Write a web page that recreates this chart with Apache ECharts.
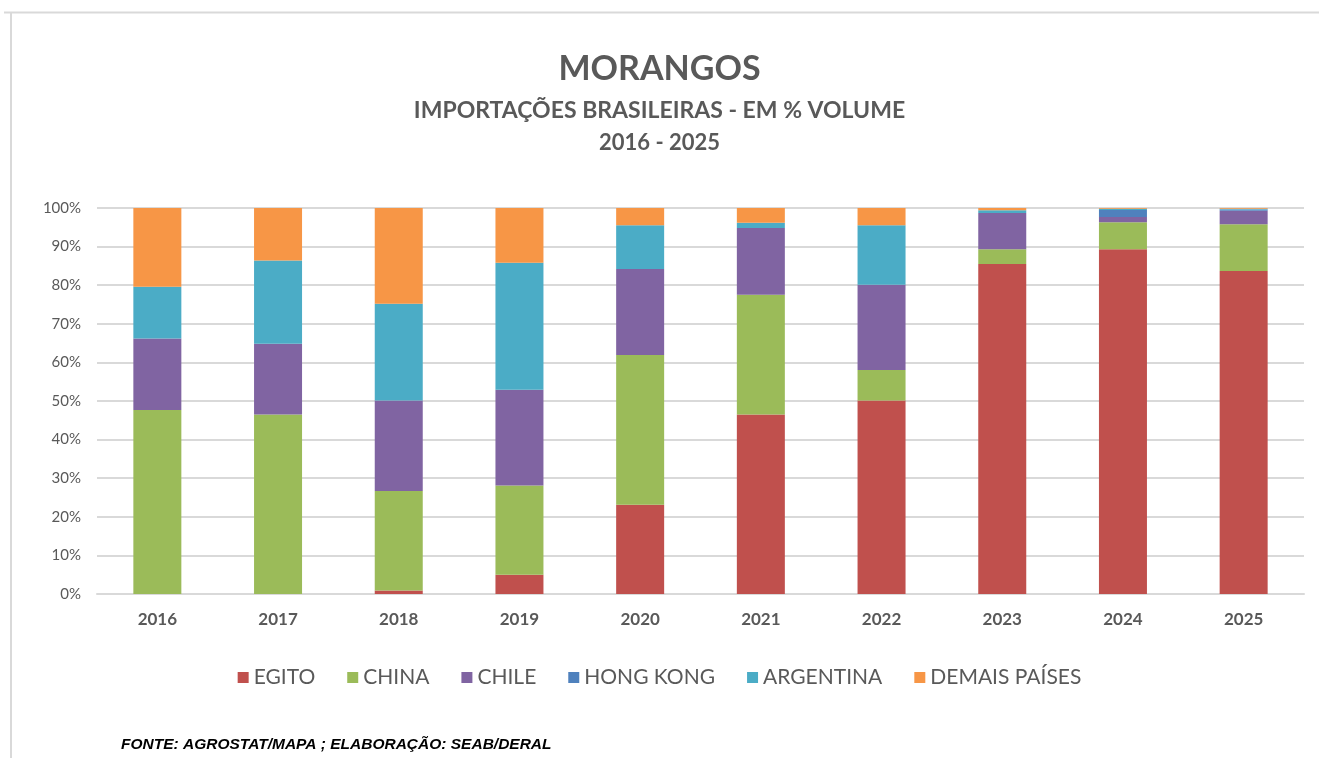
<!DOCTYPE html>
<html>
<head>
<meta charset="utf-8">
<script src="https://cdn.jsdelivr.net/npm/echarts@6/dist/echarts.min.js"></script>
<style>
html,body{margin:0;padding:0;background:#fff;}
#chart{width:1319px;height:758px;}
</style>
</head>
<body>
<div id="chart"></div>
<script>
// anos e participacao (% do volume) por pais
var anos=['2016','2017','2018','2019','2020','2021','2022','2023','2024','2025'];
var egito=[0, 0, 0.9, 5.0, 23.1, 46.5, 50.1, 85.5, 89.3, 83.7];
var china=[47.7, 46.5, 25.8, 23.1, 38.8, 31.0, 7.9, 3.8, 7.0, 12.1];
var chile=[18.5, 18.3, 23.4, 24.8, 22.3, 17.3, 22.1, 9.4, 1.4, 3.5];
var hongKong=[0, 0, 0, 0, 0, 0, 0, 0, 1.8, 0.3];
var argentina=[13.4, 21.6, 25.1, 32.9, 11.3, 1.4, 15.4, 0.7, 0.3, 0.2];
var demais=[20.4, 13.6, 24.8, 14.2, 4.5, 3.8, 4.5, 0.6, 0.2, 0.2];

var fonte="Lato, 'Noto Sans', sans-serif";
var cinza="#595959";

function serie(nome,dados,cor){
	return {
		name:nome,
		type:'bar',
		stack:'total',
		barWidth:48,
		data:dados,
		itemStyle:{color:cor}
	};
}

var chart=echarts.init(document.getElementById('chart'));
option={
	animation:false,
	title:[
		{
			text:"MORANGOS",
			left:'center',
			top:47,
			textStyle:{color:cinza,fontSize:34,fontWeight:'bold',fontFamily:fonte}
		},
		{
			text:"IMPORTAÇÕES BRASILEIRAS - EM % VOLUME",
			left:'center',
			top:94,
			textStyle:{color:cinza,fontSize:23,fontWeight:'bold',fontFamily:fonte}
		},
		{
			text:"2016 - 2025",
			left:'center',
			top:127,
			textStyle:{color:cinza,fontSize:22,fontWeight:'bold',fontFamily:fonte}
		}
	],
	legend:{
		data:["EGITO","CHINA","CHILE","HONG KONG","ARGENTINA","DEMAIS PAÍSES"],
		left:'center',
		top:662,
		itemWidth:11,
		itemHeight:11,
		itemGap:32,
		icon:'rect',
		textStyle:{color:cinza,fontSize:21,fontFamily:fonte}
	},
	grid:{
		left:97,
		right:15,
		top:208,
		bottom:164
	},
	xAxis:{
		type:'category',
		data:anos,
		axisLine:{lineStyle:{color:'#d9d9d9',width:2}},
		axisTick:{show:false},
		axisLabel:{color:cinza,fontSize:17,fontWeight:'bold',fontFamily:fonte,margin:17}
	},
	yAxis:{
		type:'value',
		min:0,
		max:100,
		interval:10,
		axisLine:{show:false},
		axisTick:{show:false},
		axisLabel:{color:cinza,fontSize:15,fontFamily:fonte,formatter:'{value}%',margin:16},
		splitLine:{lineStyle:{color:'#d9d9d9',width:2}}
	},
	series:[
		serie("EGITO",egito,"#C0504D"),
		serie("CHINA",china,"#9BBB59"),
		serie("CHILE",chile,"#8064A2"),
		serie("HONG KONG",hongKong,"#4F81BD"),
		serie("ARGENTINA",argentina,"#4BACC6"),
		serie("DEMAIS PAÍSES",demais,"#F79646")
	],
	graphic:[
		{type:'line',shape:{x1:4,y1:12.5,x2:1319,y2:12.5},style:{stroke:'#d9d9d9',lineWidth:2}},
		{type:'line',shape:{x1:11,y1:12,x2:11,y2:758},style:{stroke:'#d9d9d9',lineWidth:2}},
		{
			type:'text',
			left:121,
			top:737,
			style:{
				text:"FONTE: AGROSTAT/MAPA ; ELABORAÇÃO: SEAB/DERAL",
				fill:'#000',
				font:"italic bold 15.5px 'Liberation Sans', Arial, sans-serif"
			}
		}
	]
};
chart.setOption(option);
</script>
</body>
</html>
